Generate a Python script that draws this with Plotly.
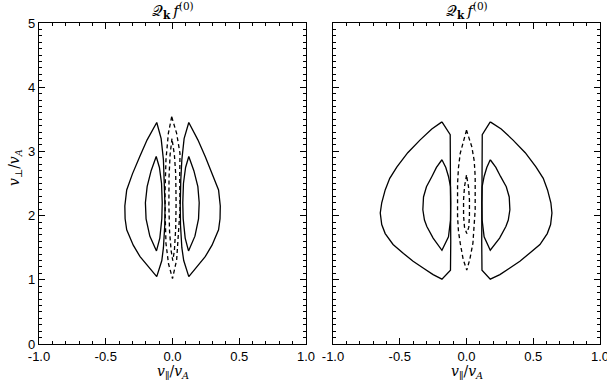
import plotly.graph_objects as go

# ---------------- data (contour polylines) ----------------
# Left panel
L_outer_left_x = [-0.118, -0.19, -0.245, -0.30, -0.343, -0.357, -0.355, -0.343, -0.294, -0.243, -0.118,
                  -0.08, -0.068, -0.058, -0.056, -0.060, -0.068, -0.085, -0.118]
L_outer_left_y = [3.45, 3.18, 2.92, 2.65, 2.40, 2.15, 1.95, 1.78, 1.54, 1.36, 1.05,
                  1.30, 1.50, 1.85, 2.15, 2.55, 2.87, 3.20, 3.45]
L_outer_right_x = [0.122, 0.19, 0.245, 0.30, 0.345, 0.358, 0.356, 0.345, 0.296, 0.245, 0.122,
                   0.084, 0.070, 0.060, 0.058, 0.062, 0.070, 0.087, 0.122]
L_outer_right_y = [3.45, 3.18, 2.92, 2.65, 2.40, 2.15, 1.95, 1.78, 1.54, 1.36, 1.05,
                   1.30, 1.50, 1.85, 2.15, 2.55, 2.87, 3.20, 3.45]
L_inner_left_x = [-0.122, -0.16, -0.19, -0.203, -0.198, -0.17, -0.120, -0.095, -0.080, -0.077, -0.082, -0.098, -0.122]
L_inner_left_y = [2.92, 2.70, 2.45, 2.20, 1.95, 1.68, 1.45, 1.65, 1.95, 2.20, 2.50, 2.75, 2.92]
L_inner_right_x = [0.122, 0.16, 0.19, 0.200, 0.195, 0.168, 0.120, 0.095, 0.080, 0.077, 0.082, 0.098, 0.122]
L_inner_right_y = [2.92, 2.70, 2.45, 2.20, 1.95, 1.68, 1.45, 1.65, 1.95, 2.20, 2.50, 2.75, 2.92]
L_dash_outer_x = [-0.006, -0.031, -0.049, -0.056, -0.054, -0.049, -0.030, 0.000, 0.031, 0.046, 0.056, 0.054, 0.056, 0.031, -0.006]
L_dash_outer_y = [3.54, 3.28, 2.87, 2.35, 1.95, 1.57, 1.25, 1.02, 1.31, 1.70, 2.09, 2.61, 2.97, 3.28, 3.54]
L_dash_inner_x = [-0.004, -0.018, -0.026, -0.027, -0.022, -0.010, 0.002, 0.014, 0.024, 0.027, 0.024, 0.014, -0.004]
L_dash_inner_y = [3.20, 2.95, 2.60, 2.15, 1.75, 1.45, 1.30, 1.45, 1.80, 2.20, 2.65, 2.95, 3.20]

# Right panel
R_outer_left_x = [-0.184, -0.26, -0.347, -0.44, -0.521, -0.575, -0.609, -0.635, -0.646, -0.635, -0.609,
                  -0.55, -0.472, -0.40, -0.322, -0.25, -0.184, -0.120, -0.118, -0.118, -0.118, -0.122, -0.184]
R_outer_left_y = [3.46, 3.35, 3.18, 2.98, 2.76, 2.58, 2.40, 2.20, 2.04, 1.86, 1.72,
                  1.55, 1.41, 1.29, 1.18, 1.08, 1.01, 1.15, 1.60, 2.20, 2.80, 3.26, 3.46]
R_outer_right_x = [0.178, 0.26, 0.347, 0.44, 0.520, 0.575, 0.607, 0.632, 0.640, 0.630, 0.605,
                   0.55, 0.470, 0.40, 0.322, 0.25, 0.178, 0.116, 0.114, 0.114, 0.114, 0.118, 0.178]
R_outer_right_y = [3.46, 3.35, 3.18, 2.98, 2.76, 2.58, 2.40, 2.20, 2.04, 1.86, 1.72,
                   1.55, 1.41, 1.29, 1.18, 1.08, 1.01, 1.15, 1.60, 2.20, 2.80, 3.26, 3.46]
R_inner_left_x = [-0.184, -0.225, -0.259, -0.300, -0.322, -0.327, -0.315, -0.297, -0.25, -0.184,
                  -0.135, -0.120, -0.118, -0.120, -0.135, -0.155, -0.184]
R_inner_left_y = [2.87, 2.75, 2.61, 2.45, 2.29, 2.09, 1.93, 1.83, 1.65, 1.46,
                  1.67, 1.93, 2.20, 2.45, 2.61, 2.75, 2.87]
R_inner_right_x = [0.178, 0.22, 0.255, 0.298, 0.320, 0.325, 0.313, 0.295, 0.248, 0.178,
                   0.132, 0.117, 0.115, 0.117, 0.132, 0.152, 0.178]
R_inner_right_y = [2.87, 2.75, 2.61, 2.45, 2.29, 2.09, 1.93, 1.83, 1.65, 1.46,
                   1.67, 1.93, 2.20, 2.45, 2.61, 2.75, 2.87]
R_dash_outer_x = [0.000, -0.030, -0.047, -0.060, -0.067, -0.067, -0.060, -0.047, -0.025, 0.002,
                  0.025, 0.048, 0.060, 0.065, 0.065, 0.058, 0.040, 0.020, 0.000]
R_dash_outer_y = [3.33, 3.12, 2.97, 2.75, 2.50, 1.98, 1.75, 1.57, 1.32, 1.15,
                  1.32, 1.57, 1.85, 2.09, 2.61, 2.85, 3.07, 3.22, 3.33]
R_dash_inner_x = [0.000, -0.015, -0.022, -0.022, -0.015, 0.002, 0.017, 0.022, 0.022, 0.015, 0.000]
R_dash_inner_y = [2.63, 2.45, 2.25, 2.00, 1.82, 1.72, 1.82, 2.00, 2.25, 2.45, 2.63]

x_tickvals = [-1.0, -0.5, 0.0, 0.5, 1.0]
x_ticktext = ["-1.0", "-0.5", "0.0", "0.5", "1.0"]
y_tickvals = [0, 1, 2, 3, 4, 5]
y_ticktext = ["0", "1", "2", "3", "4", "5"]

panel_title = "𝒬<sub><b>k</b></sub>\u2009<i>f</i><sup>(0)</sup>"
x_title = "<i>v</i><sub>∥</sub>/<i>v<sub>A</sub></i>"
y_title = "<i>v</i><sub>⊥</sub>/<i>v<sub>A</sub></i>"

# ---------------- figure ----------------
fig = go.Figure()

def add_line(xs, ys, axis_x, axis_y, dashed=False):
    fig.add_trace(go.Scatter(
        x=xs, y=ys, mode="lines", xaxis=axis_x, yaxis=axis_y,
        line=dict(color="black", width=1.3, dash="4px,3px" if dashed else "solid"),
        showlegend=False, hoverinfo="skip"))

add_line(L_outer_left_x, L_outer_left_y, "x", "y")
add_line(L_outer_right_x, L_outer_right_y, "x", "y")
add_line(L_inner_left_x, L_inner_left_y, "x", "y")
add_line(L_inner_right_x, L_inner_right_y, "x", "y")
add_line(L_dash_outer_x, L_dash_outer_y, "x", "y", dashed=True)
add_line(L_dash_inner_x, L_dash_inner_y, "x", "y", dashed=True)

add_line(R_outer_left_x, R_outer_left_y, "x2", "y2")
add_line(R_outer_right_x, R_outer_right_y, "x2", "y2")
add_line(R_inner_left_x, R_inner_left_y, "x2", "y2")
add_line(R_inner_right_x, R_inner_right_y, "x2", "y2")
add_line(R_dash_outer_x, R_dash_outer_y, "x2", "y2", dashed=True)
add_line(R_dash_inner_x, R_dash_inner_y, "x2", "y2", dashed=True)

W, H = 607, 383
xd1 = [39 / W, 306 / W]
xd2 = [333 / W, 600 / W]
yd = [(H - 344) / H, (H - 23) / H]

tickfont = dict(family="Liberation Sans, Arial, sans-serif", size=13, color="black")
common_x = dict(range=[-1, 1], tickvals=x_tickvals, ticktext=x_ticktext, ticks="inside",
                ticklen=6, tickwidth=1, tickcolor="black", showline=True, linecolor="black",
                linewidth=1.3, mirror="allticks", showgrid=False, zeroline=False,
                tickfont=tickfont, automargin=False, ticklabeloverflow="allow",
                minor=dict(dtick=0.1, tick0=0, ticks="inside", ticklen=3, tickcolor="black"))
common_y = dict(range=[0, 5], tickvals=y_tickvals, ticks="inside",
                ticklen=6, tickwidth=1, tickcolor="black", showline=True, linecolor="black",
                linewidth=1.3, mirror="allticks", showgrid=False, zeroline=False,
                tickfont=tickfont, automargin=False, ticklabeloverflow="allow",
                minor=dict(dtick=0.1, tick0=0, ticks="inside", ticklen=3, tickcolor="black"))

fig.update_layout(
    width=W, height=H,
    margin=dict(l=0, r=0, t=0, b=0),
    paper_bgcolor="white", plot_bgcolor="white",
    xaxis=dict(domain=xd1, anchor="y", **common_x),
    yaxis=dict(domain=yd, anchor="x", ticktext=y_ticktext, **common_y),
    xaxis2=dict(domain=xd2, anchor="y2", **common_x),
    yaxis2=dict(domain=yd, anchor="x2", showticklabels=False, **common_y),
)

serif = dict(family="DejaVu Serif, Liberation Serif, serif", size=14, color="black")
ann = []
for xc in [(xd1[0] + xd1[1]) / 2, (xd2[0] + xd2[1]) / 2]:
    ann.append(dict(text=panel_title, x=xc, y=(H - 10) / H, xref="paper", yref="paper",
                    showarrow=False, font=dict(family="DejaVu Serif, Liberation Serif, serif", size=15, color="black"),
                    xanchor="center", yanchor="middle"))
    ann.append(dict(text=x_title, x=xc, y=(H - 372) / H, xref="paper", yref="paper",
                    showarrow=False, font=serif, xanchor="center", yanchor="middle"))
ann.append(dict(text=y_title, x=15 / W, y=(H - 168) / H, xref="paper", yref="paper",
                showarrow=False, font=serif, textangle=-90, xanchor="center", yanchor="middle"))
fig.update_layout(annotations=ann)

fig.write_html("out.html")
